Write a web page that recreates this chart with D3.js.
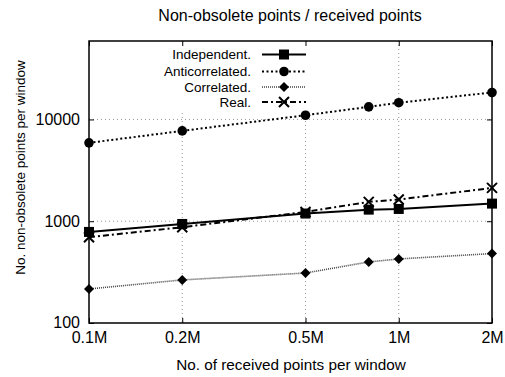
<!DOCTYPE html>
<html>
<head>
<meta charset="utf-8">
<script src="https://cdn.jsdelivr.net/npm/d3@7"></script>
<style>
  html, body { margin: 0; padding: 0; background: #fff; }
  svg { display: block; font-family: "Liberation Sans", Arial, sans-serif; }
</style>
</head>
<body>
<svg id="chart" width="505" height="377"></svg>
<script>
// ---- data ----
const xValues = [0.1, 0.2, 0.5, 0.8, 1, 2];           // millions of received points
const xTickValues = [0.1, 0.2, 0.5, 1, 2];
const xTickLabels = ["0.1M", "0.2M", "0.5M", "1M", "2M"];
const yTickValues = [100, 1000, 10000];
const yTickLabels = ["100", "1000", "10000"];
const seriesNames = ["Independent.", "Anticorrelated.", "Correlated.", "Real."];
const independent    = [785, 940, 1190, 1300, 1320, 1490];
const anticorrelated = [5890, 7720, 11000, 13300, 14600, 18400];
const correlated     = [216, 265, 310, 398, 426, 481];
const real           = [696, 873, 1234, 1550, 1634, 2125];

const W = 505, H = 377;
const margin = { left: 89, right: 13, top: 41, bottom: 54 };
const svg = d3.select("#chart");

const x = d3.scaleLog().domain([0.1, 2]).range([margin.left, W - margin.right]);
const y = d3.scaleLog().domain([100, 59000]).range([H - margin.bottom, margin.top]);

const series = [
  { name: seriesNames[0], values: independent,    dash: null,      width: 2,   color: "#000", marker: "square" },
  { name: seriesNames[1], values: anticorrelated, dash: "2,2.5",   width: 2,   color: "#000", marker: "circle" },
  { name: seriesNames[2], values: correlated,     dash: "1,1",     width: 1.6, color: "#444", marker: "diamond" },
  { name: seriesNames[3], values: real,           dash: "6,3,2,3", width: 2,   color: "#000", marker: "cross" }
];

// grid
const grid = svg.append("g").attr("stroke", "#999").attr("stroke-width", 1).attr("stroke-dasharray", "1,3");
xTickValues.slice(1, -1).forEach(v => {
  grid.append("line").attr("x1", x(v)).attr("x2", x(v)).attr("y1", y.range()[1]).attr("y2", y.range()[0]);
});
yTickValues.slice(1).forEach(v => {
  grid.append("line").attr("x1", x.range()[0]).attr("x2", x.range()[1]).attr("y1", y(v)).attr("y2", y(v));
});

// legend background (opaque key box hides grid)
const legX = 262, legX2 = 306, legMark = 284;
const legYs = [54.5, 71.5, 87, 102];
svg.append("rect").attr("x", 150).attr("y", margin.top + 1).attr("width", 162).attr("height", 70).attr("fill", "#fff");

// axes
const xAxis = d3.axisBottom(x).tickValues(xTickValues).tickFormat((d, i) => xTickLabels[i]).tickSizeInner(-5).tickSizeOuter(0).tickPadding(9);
const xAxisTop = d3.axisTop(x).tickValues(xTickValues).tickFormat("").tickSizeInner(-5).tickSizeOuter(0);
const yAxis = d3.axisLeft(y).tickValues(yTickValues).tickFormat((d, i) => yTickLabels[i]).tickSizeInner(-5).tickSizeOuter(0).tickPadding(9);
const yAxisRight = d3.axisRight(y).tickValues(yTickValues).tickFormat("").tickSizeInner(-5).tickSizeOuter(0);

function styleAxis(g) {
  g.select(".domain").remove();
  g.selectAll(".tick line").attr("stroke", "#000").attr("stroke-width", 1);
  g.selectAll(".tick text").attr("fill", "#000").style("font-size", "16px").style("font-family", "Liberation Sans, Arial, sans-serif");
}
svg.append("g").attr("transform", `translate(0,${y.range()[0]})`).call(xAxis).call(styleAxis);
svg.append("g").attr("transform", `translate(0,${y.range()[1]})`).call(xAxisTop).call(styleAxis);
svg.append("g").attr("transform", `translate(${x.range()[0]},0)`).call(yAxis).call(styleAxis)
  .selectAll(".tick text").attr("dy", "0.3em");
svg.append("g").attr("transform", `translate(${x.range()[1]},0)`).call(yAxisRight).call(styleAxis);

// lines
const line = d3.line().x((d, i) => x(xValues[i])).y(d => y(d));
series.forEach(s => {
  svg.append("path").datum(s.values).attr("d", line)
    .attr("fill", "none").attr("stroke", s.color).attr("stroke-width", s.width)
    .attr("stroke-dasharray", s.dash);
});

function drawMarker(g, type, cx, cy) {
  if (type === "square") {
    g.append("rect").attr("x", cx - 5).attr("y", cy - 5).attr("width", 10).attr("height", 10).attr("fill", "#000");
  } else if (type === "circle") {
    g.append("circle").attr("cx", cx).attr("cy", cy).attr("r", 4.8).attr("fill", "#000");
  } else if (type === "diamond") {
    g.append("path").attr("d", `M${cx},${cy - 5}L${cx + 5},${cy}L${cx},${cy + 5}L${cx - 5},${cy}Z`).attr("fill", "#000");
  } else if (type === "cross") {
    g.append("path").attr("d", `M${cx - 5},${cy - 5}L${cx + 5},${cy + 5}M${cx - 5},${cy + 5}L${cx + 5},${cy - 5}`)
      .attr("stroke", "#000").attr("stroke-width", 2).attr("fill", "none");
  }
}
series.forEach(s => {
  const g = svg.append("g");
  s.values.forEach((v, i) => drawMarker(g, s.marker, x(xValues[i]), y(v)));
});

// legend
series.forEach((s, i) => {
  const ly = legYs[i];
  svg.append("text").attr("x", 251).attr("y", ly).attr("dy", "0.35em").attr("text-anchor", "end")
    .style("font-size", "13.5px").text(s.name);
  svg.append("line").attr("x1", legX).attr("x2", legX2).attr("y1", ly).attr("y2", ly)
    .attr("stroke", s.color).attr("stroke-width", s.width).attr("stroke-dasharray", s.dash);
  drawMarker(svg.append("g"), s.marker, legMark, ly);
});

// frame
svg.append("rect").attr("x", x.range()[0]).attr("y", y.range()[1])
  .attr("width", x.range()[1] - x.range()[0]).attr("height", y.range()[0] - y.range()[1])
  .attr("fill", "none").attr("stroke", "#000").attr("stroke-width", 1.5);

// titles
svg.append("text").attr("x", 290).attr("y", 21).attr("text-anchor", "middle").style("font-size", "16px")
  .text("Non-obsolete points / received points");
svg.append("text").attr("x", 291).attr("y", 370).attr("text-anchor", "middle").style("font-size", "15.3px")
  .text("No. of received points per window");
svg.append("text").attr("transform", "translate(25,167.5) rotate(-90)").attr("text-anchor", "middle").style("font-size", "13.5px")
  .text("No. non-obsolete points per window");
</script>
</body>
</html>
